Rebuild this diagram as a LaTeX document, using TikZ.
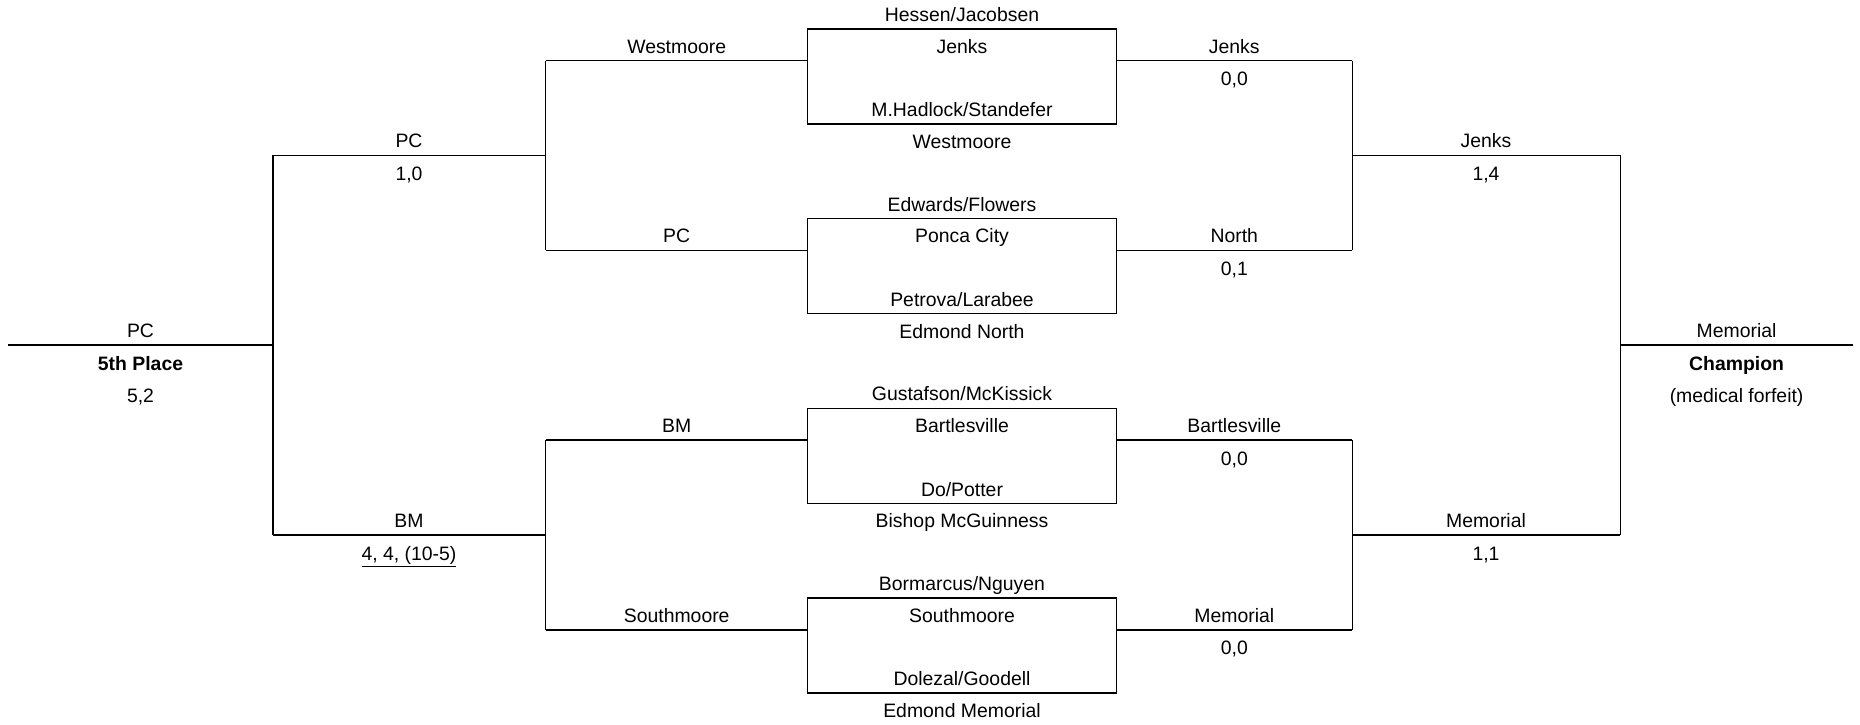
\documentclass[tikz,border=0pt]{standalone}
\usepackage{fontspec}
\setmainfont{Liberation Sans}
\begin{document}
\begin{tikzpicture}[x=0.5pt,y=-0.5pt, line width=0.75pt,
  lbl/.style={anchor=base, inner sep=0pt, font=\fontsize{9.7}{11.6}\selectfont},
  match/.style={draw, minimum width=154.35pt, minimum height=47.5pt, inner sep=0pt}]
\useasboundingbox (0,0) rectangle (1860,724);
% rows: 60.5,155.4,250.3,345.2,440.1,535,629.9
\coordinate (L)  at (8.3,345.2);
\coordinate (Rt) at (1852.9,345.2);
\coordinate (b2) at (272.8,155.4);
\coordinate (b4) at (272.8,345.2);
\coordinate (b6) at (272.8,535);
\coordinate (c1) at (545.7,60.5);
\coordinate (c2) at (545.7,155.4);
\coordinate (c3) at (545.7,250.3);
\coordinate (c5) at (545.7,440.1);
\coordinate (c6) at (545.7,535);
\coordinate (c7) at (545.7,629.9);
\coordinate (f1) at (1352.3,60.5);
\coordinate (f2) at (1352.3,155.4);
\coordinate (f3) at (1352.3,250.3);
\coordinate (f5) at (1352.3,440.1);
\coordinate (f6) at (1352.3,535);
\coordinate (f7) at (1352.3,629.9);
\coordinate (g2) at (1620.4,155.4);
\coordinate (g4) at (1620.4,345.2);
\coordinate (g6) at (1620.4,535);
% match boxes
\node[match] (m1) at (962,76.3) {};
\node[match] (m2) at (962,266.1) {};
\node[match] (m3) at (962,455.9) {};
\node[match] (m4) at (962,645.7) {};
% lines
\draw (L) -- (b4);
\draw (b2) -- (b6);
\draw (b2) -- (c2);
\draw (b6) -- (c6);
\draw (c1) -- (c3);
\draw (c5) -- (c7);
\draw (c1) -- (m1.west |- c1);
\draw (c3) -- (m2.west |- c3);
\draw (c5) -- (m3.west |- c5);
\draw (c7) -- (m4.west |- c7);
\draw (m1.east |- f1) -- (f1);
\draw (m2.east |- f3) -- (f3);
\draw (m3.east |- f5) -- (f5);
\draw (m4.east |- f7) -- (f7);
\draw (f1) -- (f3);
\draw (f5) -- (f7);
\draw (f2) -- (g2);
\draw (f6) -- (g6);
\draw (g2) -- (g6);
\draw (g4) -- (Rt);
% left labels
\node[lbl] (t1) at (140.5,337.7) {PC};
\node[lbl] (t2) at (140.5,370.2) {\bfseries 5th Place};
\node[lbl] (t3) at (140.5,402.2) {5,2};
\node[lbl] (t4) at (409,147.9) {PC};
\node[lbl] (t5) at (409,180.4) {1,0};
\node[lbl] (t6) at (409,527.5) {BM};
\node[lbl] (t7) at (409,560) {\underline{4, 4, (10-5)}};
\node[lbl] (t8) at (676.7,53) {Westmoore};
\node[lbl] (t9) at (676.7,242.8) {PC};
\node[lbl] (t10) at (676.7,432.6) {BM};
\node[lbl] (t11) at (676.7,622.4) {Southmoore};
% box labels
\node[lbl] (h1) at (962,21.3) {Hessen/Jacobsen};
\node[lbl] (i1) at (962,53) {Jenks};
\node[lbl] (j1) at (962,116.5) {M.Hadlock/Standefer};
\node[lbl] (k1) at (962,148.2) {Westmoore};
\node[lbl] (h2) at (962,211.1) {Edwards/Flowers};
\node[lbl] (i2) at (962,242.8) {Ponca City};
\node[lbl] (j2) at (962,306.3) {Petrova/Larabee};
\node[lbl] (k2) at (962,338) {Edmond North};
\node[lbl] (h3) at (962,400.9) {Gustafson/McKissick};
\node[lbl] (i3) at (962,432.6) {Bartlesville};
\node[lbl] (j3) at (962,496.1) {Do/Potter};
\node[lbl] (k3) at (962,527.8) {Bishop McGuinness};
\node[lbl] (h4) at (962,590.7) {Bormarcus/Nguyen};
\node[lbl] (i4) at (962,622.4) {Southmoore};
\node[lbl] (j4) at (962,685.9) {Dolezal/Goodell};
\node[lbl] (k4) at (962,717.6) {Edmond Memorial};
% right labels
\node[lbl] (r1) at (1234.3,53) {Jenks};
\node[lbl] (r2) at (1234.3,85.5) {0,0};
\node[lbl] (r3) at (1234.3,242.8) {North};
\node[lbl] (r4) at (1234.3,275.3) {0,1};
\node[lbl] (r5) at (1234.3,432.6) {Bartlesville};
\node[lbl] (r6) at (1234.3,465.1) {0,0};
\node[lbl] (r7) at (1234.3,622.4) {Memorial};
\node[lbl] (r8) at (1234.3,654.9) {0,0};
\node[lbl] (s1) at (1486,147.9) {Jenks};
\node[lbl] (s2) at (1486,180.4) {1,4};
\node[lbl] (s3) at (1486,527.5) {Memorial};
\node[lbl] (s4) at (1486,560) {1,1};
\node[lbl] (u1) at (1736.6,337.7) {Memorial};
\node[lbl] (u2) at (1736.6,370.2) {\bfseries Champion};
\node[lbl] (u3) at (1736.6,402.2) {(medical forfeit)};
\end{tikzpicture}
\end{document}
